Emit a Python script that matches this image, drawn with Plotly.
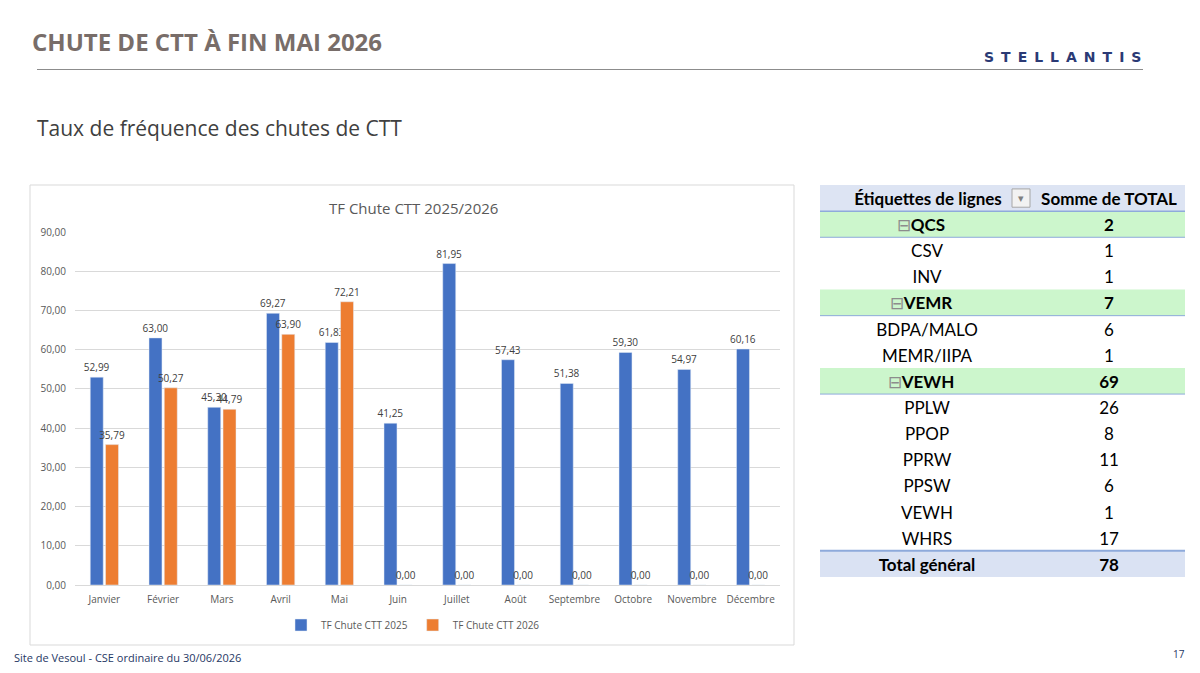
import plotly.graph_objects as go

# ---------------- data ----------------
months = ["Janvier", "Février", "Mars", "Avril", "Mai", "Juin", "Juillet",
          "Août", "Septembre", "Octobre", "Novembre", "Décembre"]
tf_2025 = [52.99, 63.00, 45.30, 69.27, 61.83, 41.25, 81.95, 57.43, 51.38, 59.30, 54.97, 60.16]
tf_2026 = [35.79, 50.27, 44.79, 63.90, 72.21, 0.00, 0.00, 0.00, 0.00, 0.00, 0.00, 0.00]
y_ticks = [0, 10, 20, 30, 40, 50, 60, 70, 80, 90]

header_labels = ["Étiquettes de lignes", "Somme de TOTAL"]
row_labels = ["QCS", "CSV", "INV", "VEMR", "BDPA/MALO", "MEMR/IIPA", "VEWH",
              "PPLW", "PPOP", "PPRW", "PPSW", "VEWH", "WHRS"]
row_values = [2, 1, 1, 7, 6, 1, 69, 26, 8, 11, 6, 1, 17]
row_is_group = [True, False, False, True, False, False, True,
                False, False, False, False, False, False]
total_label = "Total général"
total_value = 78

# ---------------- helpers ----------------
W, H = 1200, 673
def px(x):
    return x / W
def py(y):
    return 1 - y / H

def fr(v):
    return f"{v:.2f}".replace(".", ",")

BLUE = "#4472c4"
ORANGE = "#ed7d31"
GRAY_TXT = "#595959"
CHART_FONT = "Open Sans"
TABLE_FONT = "Lato"

fig = go.Figure()

# ---------------- bar chart ----------------
fig.add_trace(go.Bar(
    x=months, y=tf_2025, name="TF Chute CTT 2025",
    marker_color=BLUE,
    text=[fr(v) for v in tf_2025], textposition="outside",
    textfont=dict(size=10, color="#404040", family=CHART_FONT),
    constraintext="none", cliponaxis=False,
))
fig.add_trace(go.Bar(
    x=months, y=tf_2026, name="TF Chute CTT 2026",
    marker_color=ORANGE,
    text=[fr(v) for v in tf_2026], textposition="outside",
    textfont=dict(size=10, color="#404040", family=CHART_FONT),
    constraintext="none", cliponaxis=False,
))

# ---------------- pivot table (text via scatter on its own axes) ----------------
n_rows = len(row_labels) + 2  # header + rows + total
col1_c, col2_c = 107, 289      # column centres in table-axis units (0..365)
hdr_c1 = 108
dy = 0.6  # vertical text position inside a row

tx, ty, tt = [], [], []
# header
tx += [hdr_c1, col2_c]; ty += [dy, dy]
tt += [f"<b>{header_labels[0]}</b>", f"<b>{header_labels[1]}</b>"]
for i, (lab, val, g) in enumerate(zip(row_labels, row_values, row_is_group)):
    r = i + 1 + dy
    if g:
        tx += [col1_c - 6, col2_c]; ty += [r, r]
        tt += [f'<span style="color:#8c8c8c">⊟</span><b>{lab}</b>', f"<b>{val}</b>"]
    else:
        tx += [col1_c, col2_c]; ty += [r, r]
        tt += [lab, str(val)]
tx += [col1_c, col2_c]; ty += [n_rows - 1 + dy, n_rows - 1 + dy]
tt += [f"<b>{total_label}</b>", f"<b>{total_value}</b>"]

fig.add_trace(go.Scatter(
    x=tx, y=ty, text=tt, mode="text", xaxis="x2", yaxis="y2",
    textfont=dict(family=TABLE_FONT, size=17, color="#000000"),
    showlegend=False, hoverinfo="skip", cliponaxis=False,
))

shapes = []
# chart frame
shapes.append(dict(type="rect", xref="paper", yref="paper",
                   x0=px(30), x1=px(794), y0=py(645), y1=py(185),
                   line=dict(color="#d9d9d9", width=1), fillcolor="rgba(0,0,0,0)", layer="below"))
# title rule
shapes.append(dict(type="line", xref="paper", yref="paper",
                   x0=px(37), x1=px(1143), y0=py(69.5), y1=py(69.5),
                   line=dict(color="#8c8c8c", width=1)))
# table backgrounds
shapes.append(dict(type="rect", xref="x2", yref="y2", x0=0, x1=365, y0=0, y1=1,
                   fillcolor="#dde4f3", line=dict(width=0), layer="below"))
shapes.append(dict(type="rect", xref="x2", yref="y2", x0=0, x1=365, y0=n_rows - 1, y1=n_rows,
                   fillcolor="#dae2f3", line=dict(width=0), layer="below"))
for i, g in enumerate(row_is_group):
    if g:
        shapes.append(dict(type="rect", xref="x2", yref="y2", x0=0, x1=365, y0=i + 1, y1=i + 2,
                           fillcolor="#ccf6cc", line=dict(width=0), layer="below"))
        shapes.append(dict(type="line", xref="x2", yref="y2", x0=0, x1=365, y0=i + 2, y1=i + 2,
                           line=dict(color="#8eaadb", width=1)))
shapes.append(dict(type="line", xref="x2", yref="y2", x0=0, x1=365, y0=1, y1=1,
                   line=dict(color="#8eaadb", width=1.5)))
shapes.append(dict(type="line", xref="x2", yref="y2", x0=0, x1=365, y0=n_rows - 1, y1=n_rows - 1,
                   line=dict(color="#8eaadb", width=2)))
# filter dropdown button in header
shapes.append(dict(type="rect", xref="x2", yref="y2", x0=192, x1=210, y0=0.15, y1=0.85,
                   fillcolor="#f2f2f2", line=dict(color="#a6a6a6", width=1)))

SP = "\u2002"
annotations = [
    dict(text="<b>CHUTE DE CTT À FIN MAI 2026</b>", x=px(30), y=py(41), xref="paper", yref="paper",
         xanchor="left", yanchor="middle", showarrow=False,
         font=dict(family="Open Sans", size=24, color="#786d69")),
    dict(text="<b>" + SP.join("STELLANTIS") + "</b>", x=px(1062), y=py(57), xref="paper", yref="paper",
         xanchor="center", yanchor="middle", showarrow=False,
         font=dict(family="DejaVu Sans", size=14, color="#2b3a75")),
    dict(text="Taux de fréquence des chutes de CTT", x=px(35), y=py(128), xref="paper", yref="paper",
         xanchor="left", yanchor="middle", showarrow=False,
         font=dict(family="Open Sans", size=21, color="#404040")),
    dict(text="TF Chute CTT 2025/2026", x=px(413), y=py(208), xref="paper", yref="paper",
         xanchor="center", yanchor="middle", showarrow=False,
         font=dict(family=CHART_FONT, size=15, color=GRAY_TXT)),
    dict(text="Site de Vesoul - CSE ordinaire du 30/06/2026", x=px(12), y=py(657), xref="paper", yref="paper",
         xanchor="left", yanchor="middle", showarrow=False,
         font=dict(family="Open Sans", size=11, color="#1f3864")),
    dict(text="17", x=px(1187), y=py(654), xref="paper", yref="paper",
         xanchor="right", yanchor="middle", showarrow=False,
         font=dict(family="Open Sans", size=10, color="#1f3864")),
    dict(text="▾", x=201, y=0.5, xref="x2", yref="y2",
         xanchor="center", yanchor="middle", showarrow=False,
         font=dict(family="DejaVu Sans", size=11, color="#7f7f7f")),
]

fig.update_layout(
    width=W, height=H,
    margin=dict(l=0, r=0, t=0, b=0, pad=0, autoexpand=False),
    paper_bgcolor="white", plot_bgcolor="white",
    separators=", ",
    barmode="group", bargap=0.48, bargroupgap=0.15,
    font=dict(family=CHART_FONT, color=GRAY_TXT),
    xaxis=dict(domain=[px(75), px(780)], type="category",
               tickfont=dict(size=10, color=GRAY_TXT, family=CHART_FONT),
               showline=True, linecolor="#d9d9d9", linewidth=1, ticks="",
               ticklabelstandoff=5, automargin=False,
               showgrid=False, fixedrange=True),
    yaxis=dict(domain=[py(585), py(232)], range=[0, 90],
               tickvals=y_ticks, tickformat=".2f",
               tickfont=dict(size=10, color=GRAY_TXT, family=CHART_FONT),
               showgrid=True, gridcolor="#d9d9d9", gridwidth=1,
               ticklabelstandoff=8, automargin=False,
               zeroline=False, showline=False, ticks="", fixedrange=True),
    xaxis2=dict(domain=[px(820), px(1185)], range=[0, 365], visible=False,
                anchor="y2", fixedrange=True, automargin=False),
    yaxis2=dict(domain=[py(577), py(185)], range=[n_rows, 0], visible=False,
                anchor="x2", fixedrange=True, automargin=False),
    legend=dict(orientation="h", x=px(413), y=py(625), xanchor="center", yanchor="middle",
                font=dict(size=10, color=GRAY_TXT, family=CHART_FONT),
                itemwidth=30, bgcolor="rgba(0,0,0,0)"),
    shapes=shapes,
    annotations=annotations,
)

fig.write_html("out.html")
